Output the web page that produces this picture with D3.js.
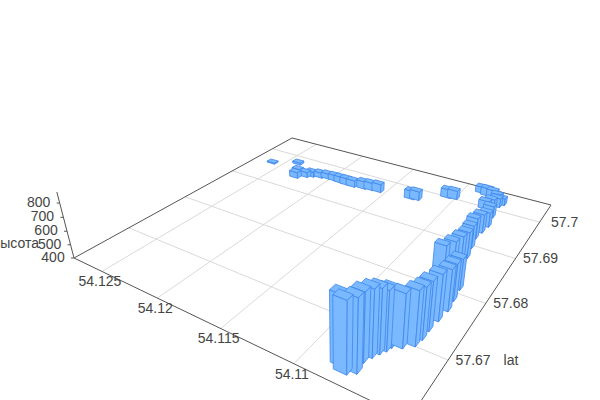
<!DOCTYPE html><html><body style="margin:0;background:#fff"><script src="https://d3js.org/d3.v7.min.js"></script>
<svg id="c" width="600" height="400" style="display:block"></svg>
<script>
const lon=[54.1081,54.1077,54.1073,54.1074,54.1072,54.1070,54.1068,54.1067,54.1062,54.1057,54.1056,54.1056,54.1055,54.1054,54.1055,54.1056,54.1070,54.1066,54.1065,54.1065,54.1067,54.1069,54.1068,54.1067,54.1069,54.1076,54.1073,54.1070,54.1068,54.1073,54.1077,54.1082,54.1087,54.1107,54.1102,54.1130,54.1126,54.1170,54.1164,54.1157,54.1179,54.1185,54.1191,54.1197,54.1204,54.1210,54.1217,54.1221,54.1227,54.1231,54.1240,54.1260];
const lat=[57.6643,57.6637,57.6643,57.6658,57.6668,57.6676,57.6683,57.6690,57.6695,57.6704,57.6716,57.6731,57.6750,57.6770,57.6789,57.6811,57.6826,57.6835,57.6853,57.6873,57.6897,57.6920,57.6938,57.6956,57.6982,57.7000,57.7007,57.7014,57.7023,57.7034,57.7036,57.7038,57.7042,57.7002,57.7004,57.6971,57.6973,57.6962,57.6964,57.6965,57.6959,57.6959,57.6960,57.6961,57.6961,57.6958,57.6954,57.6948,57.6938,57.6954,57.6978,57.6959];
const alt=[849,858,868,844,835,819,790,774,755,762,746,731,716,687,658,621,618,633,621,595,569,556,542,512,490,465,472,472,455,445,462,462,450,470,470,468,472,462,462,468,456,456,452,448,444,444,444,444,450,432,418,409];
const lonTicks=[54.125,54.12,54.115,54.11];
const latTicks=[57.67,57.68,57.69,57.7];
const altTicks=[400,500,600,700,800];
const lonExtent=[54.12779,54.10345],latExtent=[57.6618,57.7055],altExtent=[400,875];
const lonHalf=0.0004,latHalf=0.00048;

const svg=d3.select('#c');
const U=d3.scaleLinear().domain(lonExtent).range([0,1]);
const V=d3.scaleLinear().domain(latExtent).range([0,1]);
const a=213.7,b=351.2,c=74,d=36.8,e=-57.1,f=258,g=-0.2965,h=0.456,vx=340,vy=1280;
const K=d3.scaleLinear().domain([400,800]).range([0,-0.05104]);
function P(lo,la,z){const u=U(lo),v=V(la),k=K(z);const w=g*u+h*v+1+k;return [(a*u+b*v+c+k*vx)/w,(d*u+e*v+f+k*vy)/w,w];}
const line=(p,q,col,sw)=>svg.append('line').attr('x1',p[0]).attr('y1',p[1]).attr('x2',q[0]).attr('y2',q[1]).attr('stroke',col).attr('stroke-width',sw);
const [L0,L1]=lonExtent,[A0,A1]=latExtent,Z0=altExtent[0];
lonTicks.forEach(t=>line(P(t,A0,Z0),P(t,A1,Z0),'#d9d9d9',1));
latTicks.forEach(t=>line(P(L0,t,Z0),P(L1,t,Z0),'#d9d9d9',1));
[[L0,A0,L1,A0],[L1,A0,L1,A1],[L1,A1,L0,A1],[L0,A1,L0,A0]].forEach(q=>line(P(q[0],q[1],Z0),P(q[2],q[3],Z0),'#555',1));
line(P(L0,A0,Z0),P(L0,A0,altExtent[1]),'#555',1);
altTicks.forEach(t=>{const p=P(L0,A0,t);line(p,[p[0]-3,p[1]],'#555',1);});
const txt=(s,x,y,an='middle')=>svg.append('text').text(s).attr('x',x).attr('y',y).attr('dy','0.35em').attr('text-anchor',an).attr('fill','#444').style('font','14px "Liberation Sans"');
lonTicks.forEach(t=>{const p=P(t,A0,Z0);txt(d3.format('')(t),p[0]-2,p[1]+10);});
latTicks.forEach(t=>{const p=P(L1,t,Z0);txt(d3.format('')(t),p[0]+25,p[1]);});
altTicks.forEach(t=>{const p=P(L0,A0,t);txt(t,p[0]-21,p[1]-1);});
txt('lat',511,360);
txt('высота',39,243,'end');

const order=d3.range(lon.length).sort((i,j)=>P(lon[j],lat[j],Z0)[2]-P(lon[i],lat[i],Z0)[2]);
const path=pts=>'M'+pts.map(p=>p[0].toFixed(2)+','+p[1].toFixed(2)).join('L')+'Z';
const area=pts=>d3.polygonArea(pts.map(p=>[p[0],p[1]]));
const gBars=svg.append('g').attr('fill','#7ab9ff').attr('stroke','#3f87ea').attr('stroke-width',0.8).attr('stroke-linejoin','round');
order.forEach(i=>{
  const x0=lon[i]-lonHalf,x1=lon[i]+lonHalf,y0=lat[i]-latHalf,y1=lat[i]+latHalf,z=alt[i];
  const cs=[[x0,y0],[x1,y0],[x1,y1],[x0,y1]];
  const base=cs.map(q=>P(q[0],q[1],Z0)),top=cs.map(q=>P(q[0],q[1],z));
  const sign=Math.sign(area(top));
  for(let s=0;s<4;s++){const n=(s+1)%4;const face=[base[s],base[n],top[n],top[s]];
    if(Math.sign(area(face))===sign) gBars.append('path').attr('d',path(face));}
  gBars.append('path').attr('d',path(top));
});
</script></body></html>
